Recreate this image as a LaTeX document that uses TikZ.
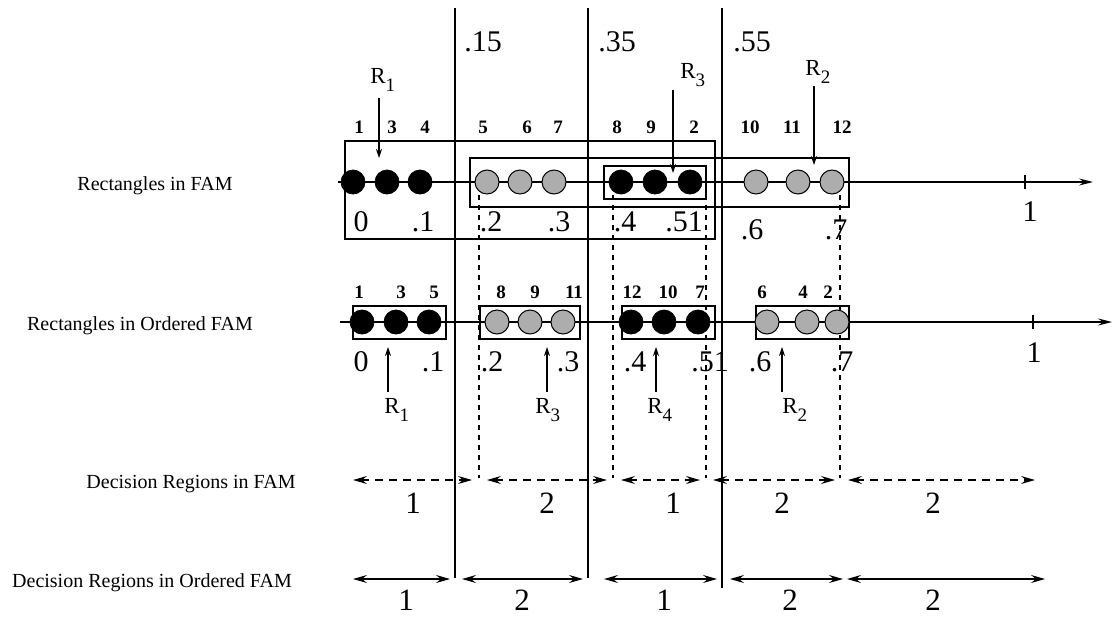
\documentclass[tikz,border=0pt]{standalone}
\usepackage{fontspec}
\setmainfont{Liberation Serif}
\usepackage{tikz}
\usetikzlibrary{positioning,arrows.meta}
\newcommand{\rsub}[1]{\raisebox{-0.85ex}{\fontsize{9.5}{10}\selectfont #1}}
\tikzset{
  blackdot/.style = {circle, fill=black, draw=black, minimum size=12pt, inner sep=0pt},
  graydot/.style  = {circle, fill=black!32, draw=black, line width=0.5pt,
                     minimum size=12pt, inner sep=0pt},
  idx/.style      = {inner sep=0pt, font=\fontsize{9.5}{11}\bfseries\selectfont},
  val/.style      = {inner sep=0pt, font=\fontsize{15}{17}\selectfont},
  rowlab/.style   = {inner sep=0pt, anchor=base, font=\fontsize{10}{12}\selectfont},
  rlab/.style     = {inner sep=0pt, anchor=base west, font=\fontsize{11.5}{13}\selectfont},
}
\begin{document}
\begin{tikzpicture}[
  x=0.5pt, y=-0.5pt,
  axis/.style={line width=0.6pt, -{Stealth[length=7pt, width=3.5pt, inset=2.5pt]}},
  tick/.style={line width=0.6pt},
  thr/.style={line width=0.9pt},
  split/.style={line width=0.6pt, dash pattern=on 2.5pt off 2.5pt},
  bigbox/.style={line width=1.2pt},
  smallbox/.style={line width=0.6pt},
  rarrow/.style={line width=0.6pt, -{Stealth[length=4.5pt, width=3pt]}},
  decdash/.style={line width=0.6pt, dash pattern=on 4pt off 3pt,
                  {Stealth[length=7pt, width=4pt, inset=2.5pt]}-{Stealth[length=7pt, width=4pt, inset=2.5pt]}},
  decsolid/.style={line width=0.6pt,
                  {Stealth[length=7pt, width=4pt, inset=2.5pt]}-{Stealth[length=7pt, width=4pt, inset=2.5pt]}},
  declab/.style={inner sep=0pt, font=\fontsize{15.5}{17}\selectfont}
]
\useasboundingbox (0,0) rectangle (1114,616);
% Row captions
\node[rowlab] (capA) at (155,190) {Rectangles in FAM};
\node[rowlab] (capB) at (140,330) {Rectangles in Ordered FAM};
\node[rowlab] (capC) at (191,488) {Decision Regions in FAM};
\node[rowlab] (capD) at (152,587) {Decision Regions in Ordered FAM};
% Thresholds
\foreach \x/\y/\t/\n in {455/578/.15/a, 588/578/.35/b, 722/588/.55/c}{
  \coordinate (thtop\n) at (\x,8);
  \coordinate (thbot\n) at (\x,\y);
  \draw[thr] (thtop\n) -- (thbot\n);
}
\node[val] (tha) at (483,42) {.15};
\node[val] (thb) at (617,42) {.35};
\node[val] (thc) at (752,42) {.55};
% Split lines (dashed)
\foreach \x [count=\i] in {479,613,706,840}{
  \coordinate (sptop\i) at (\x,195);
  \coordinate (spbot\i) at (\x,478);
  \draw[split] (sptop\i) -- (spbot\i);
}
% Row 1: rectangles in FAM
\draw[bigbox] (345,141) rectangle (715,239);
\draw[bigbox] (470,158) rectangle (849,207);
\draw[bigbox] (604,166) rectangle (706,199);
\coordinate (axAs) at (338,182);
\coordinate (axAe) at (1093,182);
\draw[axis] (axAs) -- (axAe);
\coordinate (tkA) at (1025,182);
\draw[tick] ([yshift=3.5pt]tkA) -- ([yshift=-3.5pt]tkA);
\node[val] (oneA) at (1030,212) {1};
\foreach \x/\s [count=\i] in {353/blackdot, 387/blackdot, 420/blackdot,
    487/graydot, 520/graydot, 554/graydot,
    621/blackdot, 655/blackdot, 690/blackdot,
    756/graydot, 798/graydot, 832/graydot}
  \node[\s] (p\i) at (\x,182) {};
\foreach \x/\n in {359/1, 392/3, 425/4, 483/5, 527/6, 558/7,
    617/8, 651/9, 694/2, 750/10, 792/11, 842/12}
  \node[idx] (ka\n) at (\x,127) {\n};
\foreach \x/\y/\v [count=\i] in {361/222/0, 423/222/.1, 491/222/.2, 559/222/.3,
    625/222/.4, 684/222/.51, 752/230/.6, 836/230/.7}
  \node[val] (va\i) at (\x,\y) {\v};
% Row 1 pointers
\node[rlab] (rA) at (370,83) {R\rsub{1}};
\node[rlab] (rB) at (680,78) {R\rsub{3}};
\node[rlab] (rC) at (805,75) {R\rsub{2}};
\coordinate (rAtip) at (379,158);
\coordinate (rBtip) at (673,173);
\coordinate (rCtip) at (814,165);
\draw[rarrow] ([yshift=-3pt]rAtip |- rA.south) -- (rAtip);
\draw[rarrow] ([yshift=-1pt]rBtip |- rB.south) -- (rBtip);
\draw[rarrow] ([yshift=-1pt]rCtip |- rC.south) -- (rCtip);
% Row 2: rectangles in ordered FAM
\foreach \a/\b in {353/446, 480/580, 622/715, 756/849}
  \draw[smallbox] (\a,306) rectangle (\b,339);
\coordinate (axBs) at (340,322);
\coordinate (axBe) at (1112,322);
\draw[axis] (axBs) -- (axBe);
\coordinate (tkB) at (1033,322);
\draw[tick] ([yshift=3.5pt]tkB) -- ([yshift=-3.5pt]tkB);
\node[val] (oneB) at (1034,353) {1};
\foreach \x/\s [count=\i] in {362/blackdot, 396/blackdot, 429/blackdot,
    497/graydot, 530/graydot, 563/graydot,
    631/blackdot, 664/blackdot, 698/blackdot,
    767/graydot, 807/graydot, 837/graydot}
  \node[\s] (q\i) at (\x,322) {};
\foreach \x/\n in {359/1, 401/3, 434/5, 501/8, 535/9, 574/11,
    632/12, 668/10, 700/7, 762/6, 803/4, 828/2}
  \node[idx] (kb\n) at (\x,292) {\n};
\foreach \x/\v [count=\i] in {361/0, 433/.1, 492/.2, 568/.3,
    635/.4, 710/.51, 760/.6, 842/.7}
  \node[val] (vb\i) at (\x,362) {\v};
% Row 2 pointers
\node[rlab] (rD) at (384,413) {R\rsub{1}};
\node[rlab] (rE) at (535,413) {R\rsub{3}};
\node[rlab] (rF) at (647,413) {R\rsub{4}};
\node[rlab] (rG) at (782,413) {R\rsub{2}};
\coordinate (rDtip) at (388,347);
\coordinate (rEtip) at (547,347);
\coordinate (rFtip) at (656,347);
\coordinate (rGtip) at (782,347);
\draw[rarrow] ([yshift=3pt]rDtip |- rD.north) -- (rDtip);
\draw[rarrow] ([yshift=3pt]rEtip |- rE.north) -- (rEtip);
\draw[rarrow] ([yshift=3pt]rFtip |- rF.north) -- (rFtip);
\draw[rarrow] ([yshift=3pt]rGtip |- rG.north) -- (rGtip);
% Decision regions in FAM
\foreach \a/\b/\m/\v [count=\i] in {353/472/413/1, 487/607/547/2, 621/700/673/1,
    713/835/782/2, 848/1035/933/2}{
  \coordinate (dl\i) at (\a,480);
  \coordinate (dr\i) at (\b,480);
  \draw[decdash] (dl\i) -- (dr\i);
  \node[declab] (dn\i) at (\m,503) {\v};
}
% Decision regions in ordered FAM
\foreach \a/\b/\m/\v [count=\i] in {353/450/406/1, 462/583/522/2, 604/717/664/1,
    730/843/790/2, 847/1045/933/2}{
  \coordinate (el\i) at (\a,579);
  \coordinate (er\i) at (\b,579);
  \draw[decsolid] (el\i) -- (er\i);
  \node[declab] (en\i) at (\m,600) {\v};
}
\end{tikzpicture}
\end{document}
